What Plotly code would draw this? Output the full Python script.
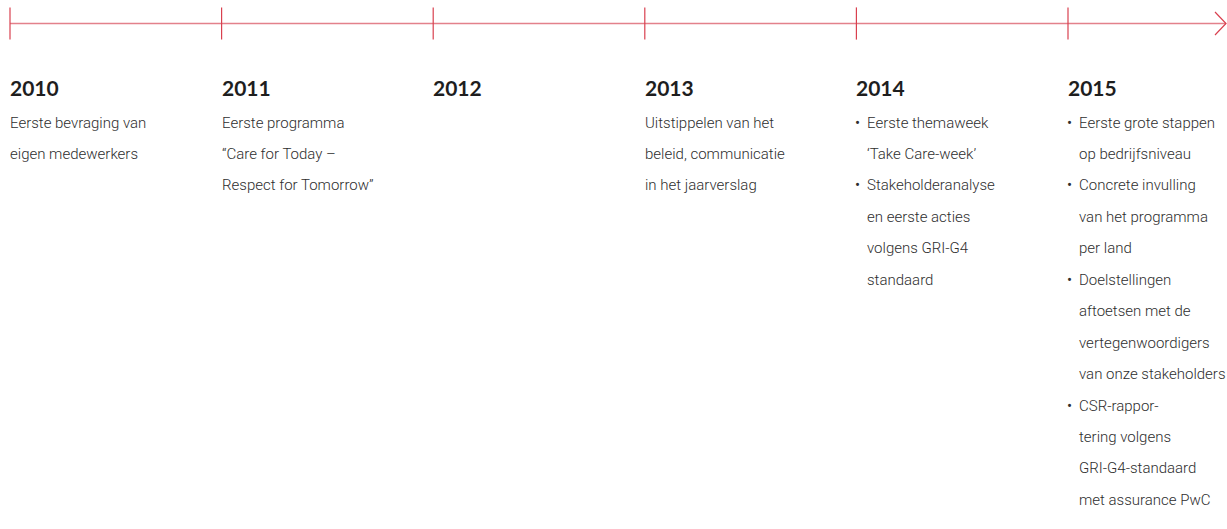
import plotly.graph_objects as go

years = [2010, 2011, 2012, 2013, 2014, 2015]
year_labels = ["2010", "2011", "2012", "2013", "2014", "2015"]
descriptions = [
    [["Eerste bevraging van", "eigen medewerkers"]],
    [["Eerste programma", "“Care for Today –", "Respect for Tomorrow”"]],
    [],
    [["Uitstippelen van het", "beleid, communicatie", "in het jaarverslag"]],
    [["Eerste themaweek", "‘Take Care-week’"],
     ["Stakeholderanalyse", "en eerste acties", "volgens GRI-G4", "standaard"]],
    [["Eerste grote stappen", "op bedrijfsniveau"],
     ["Concrete invulling", "van het programma", "per land"],
     ["Doelstellingen", "aftoetsen met de", "vertegenwoordigers", "van onze stakeholders"],
     ["CSR-rappor-", "tering volgens", "GRI-G4-standaard", "met assurance PwC"]],
]
bulleted = [False, False, False, False, True, True]

W, H = 1227, 529
step = 211.6          # px per year
x0px = 10             # px of first year
xmin = years[0] - x0px / step
xmax = years[0] + (W - x0px) / step
line_end = years[0] + (W - 1 - x0px) / step
head = 11 / step

line_col = "#e3818b"
tick_col = "#d9404f"
text_col = "#2e2e2e"
year_col = "#1e1e1e"
body_font = "Roboto, sans-serif"

fig = go.Figure()
fig.add_trace(go.Scatter(x=[years[0], line_end], y=[23.5, 23.5], mode="lines",
                         line=dict(color=line_col, width=1.6), hoverinfo="skip"))
fig.add_trace(go.Scatter(x=[line_end - head, line_end, line_end - head], y=[12, 23.5, 35],
                         mode="lines", line=dict(color=tick_col, width=1.2), hoverinfo="skip"))
fig.add_trace(go.Scatter(x=years, y=[23.5] * len(years), mode="markers",
                         marker=dict(symbol="line-ns-open", size=23, color=tick_col,
                                     line=dict(color=tick_col, width=1.2)),
                         hoverinfo="skip"))

ann = []
for yr, lab, items, bul in zip(years, year_labels, descriptions, bulleted):
    ann.append(dict(x=yr, y=87, text=f"<b>{lab}</b>", showarrow=False,
                    xanchor="left", yanchor="middle", xshift=-1,
                    font=dict(family="Lato, Open Sans, sans-serif", size=21, color=year_col)))
    k = 0
    for item in items:
        for j, ln in enumerate(item):
            y = 122.5 + k * 31.45
            if bul:
                if j == 0:
                    ann.append(dict(x=yr, y=y, text="•", showarrow=False, xanchor="left",
                                    yanchor="middle", xshift=-2,
                                    font=dict(family=body_font, size=15, color=text_col)))
                ann.append(dict(x=yr, y=y, text=ln, showarrow=False, xanchor="left",
                                yanchor="middle", xshift=10,
                                font=dict(family=body_font, size=15, color=text_col,
                                          weight=300)))
            else:
                ann.append(dict(x=yr, y=y, text=ln, showarrow=False, xanchor="left",
                                yanchor="middle", xshift=-1,
                                font=dict(family=body_font, size=15, color=text_col,
                                          weight=300)))
            k += 1

for a in ann:
    a["borderpad"] = 0

fig.update_layout(
    width=W, height=H, margin=dict(l=0, r=0, t=0, b=0),
    paper_bgcolor="white", plot_bgcolor="white", showlegend=False,
    xaxis=dict(range=[xmin, xmax], visible=False, fixedrange=True),
    yaxis=dict(range=[H, 0], visible=False, fixedrange=True),
    annotations=ann,
)
fig.write_html("out.html", config={"displayModeBar": False},
               post_script="document.body.style.margin='0';document.body.style.overflow='hidden';")
